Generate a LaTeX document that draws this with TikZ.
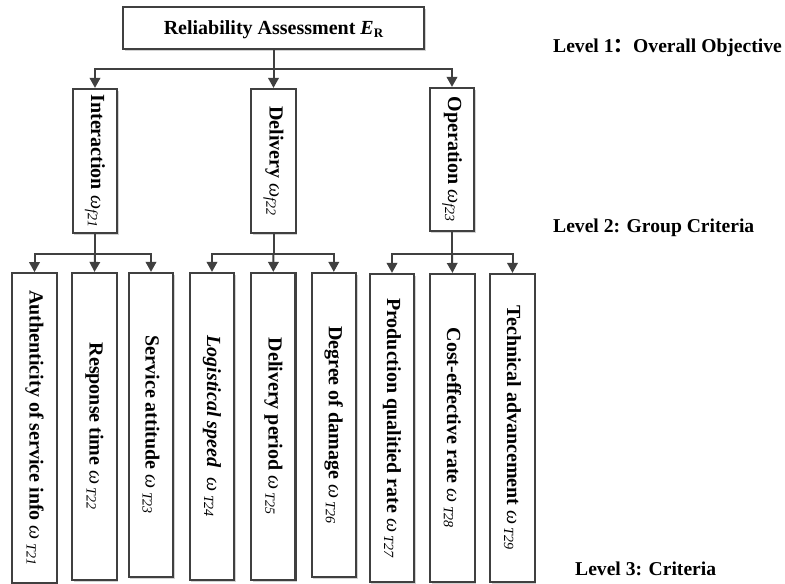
\documentclass[tikz,border=0pt]{standalone}
\usepackage{fontspec}
\setmainfont{Liberation Serif}
\newfontfamily\cjk{Noto Sans CJK SC}
\usetikzlibrary{arrows.meta,shadows}
\definecolor{ln}{HTML}{404040}
\newcommand{\omg}[1]{{\normalfont\itshape ω}\,\textsubscript{\normalfont\itshape #1}}
\newcommand{\omt}[1]{{\normalfont\itshape ω}\textsubscript{\normalfont\itshape #1}}
\begin{document}
\begin{tikzpicture}[x=1pt,y=-1pt,
  font=\fontsize{20}{22}\selectfont\bfseries,
  box/.style={draw=ln,line width=2.2pt,fill=white,inner sep=0pt,
    drop shadow={shadow xshift=1.5pt,shadow yshift=-1.5pt,fill=black!22,opacity=0.8}},
  arr/.style={draw=ln,line width=2pt,-{Triangle[width=10.5pt,length=10pt]}},
  ln/.style={draw=ln,line width=2pt},
  lvl/.style={anchor=west,inner sep=0pt,font=\fontsize{19.6}{22}\selectfont\bfseries}]
\useasboundingbox (0,0) rectangle (785,584);
% level 1
\node[box,minimum width=301pt,minimum height=42pt,text depth=0pt] (top) at (273.5,28)
  {Reliability Assessment \textit{E}\raisebox{-0.25ex}{\fontsize{13}{13}\selectfont R}};
% level 2
\node[box,minimum width=44.6pt,minimum height=144pt] (inter) at (95,161)
  {\rotatebox{-90}{Interaction \omt{f21}}};
\node[box,minimum width=44.6pt,minimum height=144pt] (deliv) at (273.5,161)
  {\rotatebox{-90}{Delivery \omt{f22}}};
\node[box,minimum width=44.6pt,minimum height=143pt] (oper) at (452,159.5)
  {\rotatebox{-90}{Operation \omt{f23}}};
% level 3
\node[box,minimum width=44.4pt,minimum height=309.5pt] (c1) at (34.5,428)
  {\rotatebox{-90}{Authenticity of service info \omg{T21}}};
\node[box,minimum width=44.4pt,minimum height=307pt] (c2) at (94.5,426.5)
  {\rotatebox{-90}{Response time \omg{T22}}};
\node[box,minimum width=44.4pt,minimum height=304pt] (c3) at (151,425)
  {\rotatebox{-90}{Service attitude \omg{T23}}};
\node[box,minimum width=44.4pt,minimum height=307pt] (c4) at (212,426.5)
  {\rotatebox{-90}{\textit{Logistical speed}\ \ \omg{T24}}};
\node[box,minimum width=44.4pt,minimum height=307pt] (c5) at (273.3,426.5)
  {\rotatebox{-90}{Delivery period \omg{T25}}};
\node[box,minimum width=44.4pt,minimum height=304pt] (c6) at (333.8,425)
  {\rotatebox{-90}{Degree of damage \omg{T26}}};
\node[box,minimum width=44.4pt,minimum height=308pt] (c7) at (392,428)
  {\rotatebox{-90}{Production qualitied rate \omg{T27}}};
\node[box,minimum width=44.4pt,minimum height=308pt] (c8) at (452.5,428)
  {\rotatebox{-90}{Cost-effective rate \omg{T28}}};
\node[box,minimum width=44.4pt,minimum height=308pt] (c9) at (512.5,428)
  {\rotatebox{-90}{Technical advancement \omg{T29}}};
% level labels
\node[lvl] (l1) at (553,48) {Level 1{\cjk ：}Overall Objective};
\node[lvl] (l2) at (553,228) {Level 2: Group Criteria};
\node[lvl] (l3) at (575,569) {Level 3: Criteria};
% connectors
\coordinate (j1) at (273.5,69);
\coordinate (ja) at (95,254);
\coordinate (jb) at (273.5,254);
\coordinate (jc) at (452,254);
\draw[ln] (top.south) -- (j1);
\draw[arr] (j1) -| (inter.north);
\draw[arr] (j1) -- (deliv.north);
\draw[arr] (j1) -| (oper.north);
\draw[ln] (inter.south) -- (ja);
\draw[arr] (ja) -| (c1.north);
\draw[arr] (ja) -- (c2.north);
\draw[arr] (ja) -| (c3.north);
\draw[ln] (deliv.south) -- (jb);
\draw[arr] (jb) -| (c4.north);
\draw[arr] (jb) -- (c5.north);
\draw[arr] (jb) -| (c6.north);
\draw[ln] (oper.south) -- (jc);
\draw[arr] (jc) -| (c7.north);
\draw[arr] (jc) -- (c8.north);
\draw[arr] (jc) -| (c9.north);
\end{tikzpicture}
\end{document}
